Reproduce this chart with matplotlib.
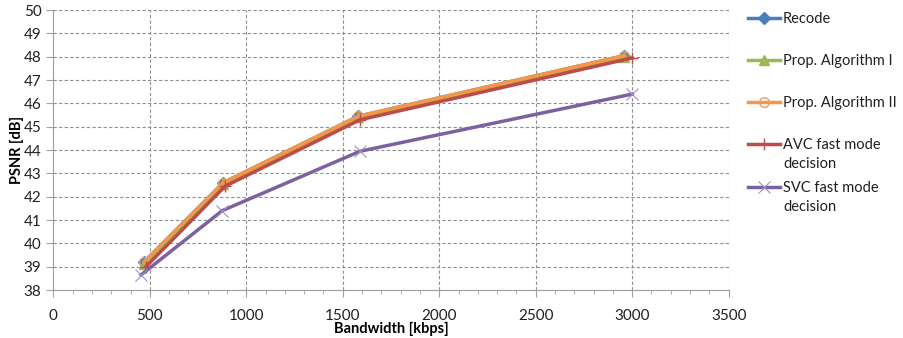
import matplotlib
matplotlib.use("Agg")
import matplotlib.pyplot as plt
from matplotlib.ticker import MultipleLocator
from matplotlib.lines import Line2D

plt.rcParams['font.family'] = ['Lato', 'DejaVu Sans']

series_names = ["Recode", "Prop. Algorithm I", "Prop. Algorithm II",
                "AVC fast mode\ndecision", "SVC fast mode\ndecision"]
recode_x = [470, 880, 1580, 2960]
recode_y = [39.2, 42.6, 45.45, 48.05]
prop1_x = [470, 880, 1580, 2960]
prop1_y = [39.1, 42.55, 45.4, 48.0]
prop2_x = [470, 880, 1580, 2960]
prop2_y = [39.2, 42.6, 45.45, 48.05]
avc_x = [480, 890, 1590, 3000]
avc_y = [39.0, 42.45, 45.3, 47.95]
svc_x = [455, 875, 1590, 3000]
svc_y = [38.65, 41.4, 43.95, 46.4]

W, H = 904, 338
fig = plt.figure(figsize=(W / 100, H / 100), dpi=100)
ax = fig.add_axes([0.059, 0.142, 0.747, 0.828])

styles = [
    dict(color='#4a7ebb', lw=2.5, marker='D', ms=6),
    dict(color='#98b954', lw=2.5, marker='^', ms=7),
    dict(color='#f79646', lw=2.5, marker='o', ms=7, mfc='none', mec='#e0a070'),
    dict(color='#be4b48', lw=2.5, marker='+', ms=9, mew=1),
    dict(color='#7d60a0', lw=2.5, marker='x', ms=9, mew=0.8, mec='#a090c0'),
]
data = [(recode_x, recode_y), (prop1_x, prop1_y), (prop2_x, prop2_y),
        (avc_x, avc_y), (svc_x, svc_y)]
for (xs, ys), st, name in zip(data, styles, series_names):
    ax.plot(xs, ys, label=name, **st)

ax.set_xlim(0, 3500)
ax.set_ylim(38, 50)
ax.xaxis.set_major_locator(MultipleLocator(500))
ax.xaxis.set_minor_locator(MultipleLocator(100))
ax.yaxis.set_major_locator(MultipleLocator(1))
ax.grid(True, which='major', color='#909090', ls=(0, (3, 2)), lw=0.8)

for s in ['top', 'right']:
    ax.spines[s].set_visible(False)
for s in ['left', 'bottom']:
    ax.spines[s].set_color('#a0a0a0')
ax.tick_params(axis='both', which='major', direction='out', length=5, color='#a0a0a0',
               labelsize=11, labelcolor='#202020')
ax.tick_params(axis='x', which='minor', direction='out', length=3, color='#a0a0a0')
ax.tick_params(axis='x', which='major', pad=9)

ax.set_xlabel("Bandwidth [kbps]", fontsize=10.5, fontweight='bold', labelpad=-1)
ax.set_ylabel("PSNR [dB]", fontsize=10.5, fontweight='bold', labelpad=0)

# Legend drawn manually (handle aligned with first text line, like the reference)
rows_y = [18, 60, 102, 144, 187]
for yy, st, name in zip(rows_y, styles, series_names):
    yf = 1 - yy / H
    line_kw = {k: v for k, v in st.items() if k not in ('marker', 'ms', 'mfc', 'mec', 'mew')}
    fig.add_artist(Line2D([748 / W, 780 / W], [yf, yf], transform=fig.transFigure, **line_kw))
    mk = {k: v for k, v in st.items() if k in ('marker', 'ms', 'mfc', 'mec', 'mew', 'color')}
    fig.add_artist(Line2D([764 / W], [yf], transform=fig.transFigure, ls='none', **mk))
    fig.text(783 / W, yf + 6 / H, name, fontsize=10.5, va='top', ha='left',
             color='#202020', linespacing=1.45)

fig.savefig("out.png", dpi=100)
